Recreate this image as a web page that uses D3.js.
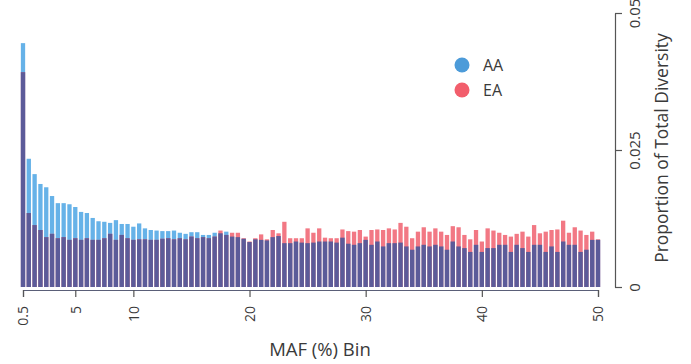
<!DOCTYPE html>
<html>
<head>
<meta charset="utf-8">
<script src="https://cdn.jsdelivr.net/npm/d3@7"></script>
<style>
  body { margin: 0; background: #fff; }
  text { font-family: "Open Sans", "Noto Sans", sans-serif; fill: #3a3a3a; }
</style>
</head>
<body>
<div id="chart"></div>
<script>
// MAF bins, 0.5% wide
const bins = d3.range(1, 101).map(d => d / 2);
const xTicks = [0.5, 5, 10, 20, 30, 40, 50];
const yTicks = [0, 0.025, 0.05];
const yTickLabels = ["0", "0.025", "0.05"];

// proportion of total diversity per bin
const aa = [
  0.0445, 0.0234, 0.0206, 0.0188, 0.0182, 0.0166, 0.0153, 0.0153, 0.0151, 0.0146,
  0.0137, 0.0135, 0.0126, 0.0120, 0.0119, 0.0117, 0.0122, 0.0115, 0.0115, 0.0110,
  0.0116, 0.0107, 0.0104, 0.0103, 0.0102, 0.0102, 0.0103, 0.0099, 0.0097, 0.0100,
  0.0100, 0.0095, 0.0095, 0.0099, 0.0098, 0.0101, 0.0092, 0.0091, 0.0088, 0.0082,
  0.0087, 0.0086, 0.0085, 0.0091, 0.0093, 0.0080, 0.0080, 0.0083, 0.0081, 0.0080,
  0.0081, 0.0083, 0.0083, 0.0083, 0.0081, 0.0090, 0.0079, 0.0077, 0.0080, 0.0086,
  0.0077, 0.0083, 0.0074, 0.0080, 0.0080, 0.0081, 0.0074, 0.0068, 0.0074, 0.0077,
  0.0074, 0.0077, 0.0074, 0.0068, 0.0083, 0.0074, 0.0071, 0.0064, 0.0077, 0.0064,
  0.0071, 0.0071, 0.0077, 0.0077, 0.0064, 0.0077, 0.0071, 0.0064, 0.0077, 0.0077,
  0.0064, 0.0074, 0.0064, 0.0083, 0.0077, 0.0077, 0.0064, 0.0068, 0.0086, 0.0086
];
const ea = [
  0.0392, 0.0135, 0.0113, 0.0104, 0.0091, 0.0097, 0.0089, 0.0091, 0.0086, 0.0089,
  0.0086, 0.0089, 0.0086, 0.0086, 0.0089, 0.0097, 0.0086, 0.0095, 0.0089, 0.0086,
  0.0087, 0.0087, 0.0086, 0.0086, 0.0088, 0.0089, 0.0087, 0.0089, 0.0087, 0.0092,
  0.0089, 0.0091, 0.0089, 0.0092, 0.0103, 0.0095, 0.0099, 0.0099, 0.0089, 0.0083,
  0.0089, 0.0096, 0.0087, 0.0104, 0.0098, 0.0119, 0.0089, 0.0089, 0.0089, 0.0107,
  0.0099, 0.0107, 0.0090, 0.0089, 0.0089, 0.0105, 0.0102, 0.0101, 0.0104, 0.0092,
  0.0104, 0.0105, 0.0104, 0.0107, 0.0105, 0.0117, 0.0110, 0.0089, 0.0101, 0.0109,
  0.0101, 0.0107, 0.0101, 0.0095, 0.0111, 0.0109, 0.0095, 0.0087, 0.0104, 0.0083,
  0.0107, 0.0103, 0.0099, 0.0095, 0.0092, 0.0097, 0.0101, 0.0092, 0.0113, 0.0098,
  0.0101, 0.0104, 0.0105, 0.0121, 0.0099, 0.0109, 0.0103, 0.0095, 0.0101, 0.0087
];

const width = 691;
const height = 364;
const barWidth = 4.3;

const svg = d3.select("#chart")
  .append("svg")
  .attr("width", width)
  .attr("height", height);

const x = d3.scaleLinear().domain([0.5, 50]).range([23, 598]);
const y = d3.scaleLinear().domain([0, 0.05]).range([287, 13]);

const rows = bins.map((b, i) => ({ bin: b, aa: aa[i], ea: ea[i] }));

// AA and EA bars, with the shared part drawn dark on top
const layers = [
  { key: d => d.aa, color: "#66b2e8" },
  { key: d => d.ea, color: "#f27884" },
  { key: d => Math.min(d.aa, d.ea), color: "#5c5b99" }
];

layers.forEach(layer => {
  svg.append("g")
    .selectAll("rect")
    .data(rows)
    .enter()
    .append("rect")
    .attr("x", d => x(d.bin) - barWidth / 2)
    .attr("width", barWidth)
    .attr("y", d => y(layer.key(d)))
    .attr("height", d => y(0) - y(layer.key(d)))
    .attr("fill", layer.color);
});

// x axis
const xAxis = svg.append("g")
  .attr("transform", "translate(0,290)")
  .call(d3.axisBottom(x).tickValues(xTicks).tickSize(7).tickFormat(d => d));
xAxis.select(".domain").attr("stroke", "#5a5f78").attr("stroke-width", 1.2);
xAxis.selectAll(".tick line").attr("stroke", "#555").attr("stroke-width", 1.2);
xAxis.selectAll(".tick text")
  .attr("transform", "rotate(-90)")
  .attr("x", -16)
  .attr("y", 0)
  .attr("dy", "0.35em")
  .style("text-anchor", "end")
  .style("font-size", "14px")
  .style("fill", "#3a3a3a");

svg.append("text")
  .attr("x", 320)
  .attr("y", 356)
  .style("text-anchor", "middle")
  .style("font-size", "18.5px")
  .text("MAF (%) Bin");

// y axis on the right, ticks pointing outwards
const yAxis = svg.append("g")
  .attr("transform", "translate(615,0)")
  .call(d3.axisRight(y).tickValues(yTicks).tickSize(7).tickSizeOuter(0)
    .tickFormat((d, i) => yTickLabels[i]));
yAxis.select(".domain").attr("stroke", "#555").attr("stroke-width", 1.2);
yAxis.selectAll(".tick line").attr("stroke", "#555").attr("stroke-width", 1.2);
yAxis.selectAll(".tick text")
  .attr("transform", "rotate(-90)")
  .attr("x", 0)
  .attr("y", 20)
  .attr("dy", "0.35em")
  .style("text-anchor", "middle")
  .style("font-size", "15px")
  .style("fill", "#3a3a3a");

svg.append("text")
  .attr("transform", "translate(668,148) rotate(-90)")
  .style("text-anchor", "middle")
  .style("font-size", "17.5px")
  .text("Proportion of Total Diversity");

// legend
const legend = [
  { name: "AA", color: "#4c9bd9" },
  { name: "EA", color: "#f25e6c" }
];
const lg = svg.append("g")
  .selectAll("g")
  .data(legend)
  .enter()
  .append("g")
  .attr("transform", (d, i) => "translate(462," + (65 + i * 25) + ")");
lg.append("circle").attr("r", 7.5).attr("fill", d => d.color);
lg.append("text")
  .attr("x", 21)
  .attr("dy", "0.35em")
  .style("font-size", "16px")
  .text(d => d.name);
</script>
</body>
</html>
